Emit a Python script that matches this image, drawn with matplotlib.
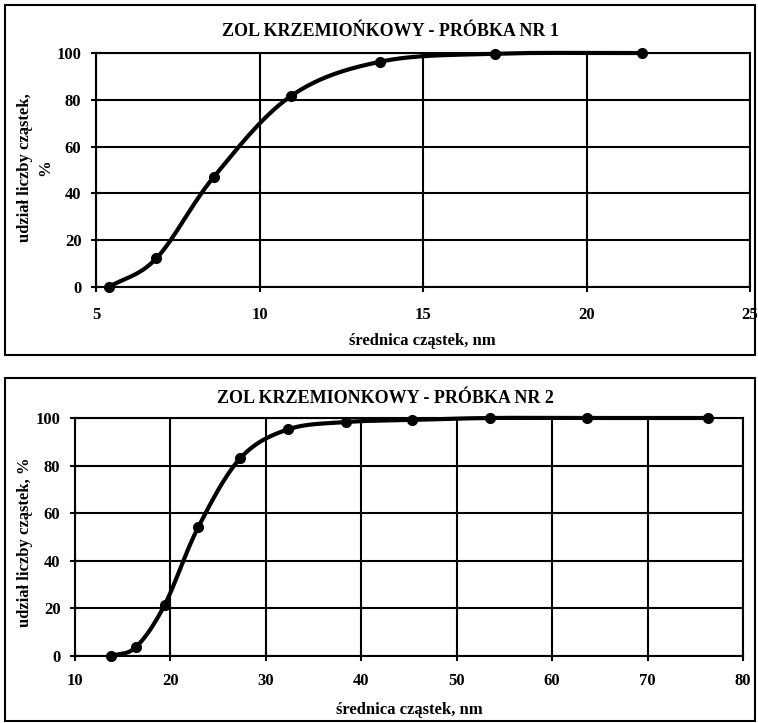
import numpy as np
import matplotlib
matplotlib.use("Agg")
import matplotlib.pyplot as plt
from matplotlib.patches import Rectangle

# Data
x1 = [5.4, 6.85, 8.6, 10.95, 13.7, 17.2, 21.7]
y1 = [0, 12.3, 47, 81.5, 96.3, 99.7, 100]
x2 = [13.8, 16.4, 19.4, 22.9, 27.3, 32.3, 38.4, 45.3, 53.5, 63.7, 76.3]
y2 = [0, 3.8, 21.5, 54, 83, 95.2, 98.3, 99.2, 100, 100, 100]

title1 = "ZOL KRZEMIOŃKOWY - PRÓBKA NR 1"
title2 = "ZOL KRZEMIONKOWY - PRÓBKA NR 2"
xlabel = "średnica cząstek, nm"
ylabel1 = "udział liczby cząstek,\n%"
ylabel2 = "udział liczby cząstek, %"

plt.rcParams['font.family'] = ['Liberation Serif', 'DejaVu Serif']
plt.rcParams['font.weight'] = 'bold'


def smooth(xs, ys, n=30):
    xs = np.asarray(xs, float); ys = np.asarray(ys, float)
    P = np.column_stack([xs, ys])
    P = np.vstack([2 * P[0] - P[1], P, 2 * P[-1] - P[-2]])
    out = []
    t = np.linspace(0, 1, n)[:, None]
    for i in range(1, len(P) - 2):
        p0, p1, p2, p3 = P[i - 1], P[i], P[i + 1], P[i + 2]
        seg = 0.5 * ((2 * p1) + (-p0 + p2) * t + (2 * p0 - 5 * p1 + 4 * p2 - p3) * t ** 2
                     + (-p0 + 3 * p1 - 3 * p2 + p3) * t ** 3)
        out.append(seg)
    S = np.vstack(out)
    return S[:, 0], np.minimum(S[:, 1], 100.3)


W, H = 758, 723
fig = plt.figure(figsize=(W / 100, H / 100), dpi=100)


def fx(px):
    return px / W


def fy(py):
    return 1 - py / H


# panel frames
fig.patches.append(Rectangle((fx(5), fy(355)), 750 / W, 350 / H,
                             transform=fig.transFigure, fill=False, lw=1.5, ec='black'))
fig.patches.append(Rectangle((fx(5), fy(721)), 750 / W, 343 / H,
                             transform=fig.transFigure, fill=False, lw=1.5, ec='black'))


def setup(ax, xs, ys, xlim, xticks, xpad):
    sx, sy = smooth(xs, ys)
    ax.plot(sx, sy, color='black', lw=3, solid_capstyle='round', zorder=3, clip_on=False)
    ax.plot(xs, ys, 'o', color='black', ms=7, zorder=4, clip_on=False)
    ax.set_xlim(*xlim)
    ax.set_ylim(0, 100)
    ax.set_xticks(xticks)
    ax.set_yticks([0, 20, 40, 60, 80, 100])
    ax.grid(True, color='black', lw=1.5)
    ax.set_axisbelow(True)
    for s in ax.spines.values():
        s.set_linewidth(1.5)
    ax.tick_params(axis='both', labelsize=12, width=1.5, length=7, direction='inout')
    ax.tick_params(axis='x', pad=xpad)
    ax.tick_params(axis='y', pad=7)
    for lab in ax.get_xticklabels() + ax.get_yticklabels():
        lab.set_fontweight('bold')
    return ax


ax1 = fig.add_axes([fx(96), fy(287), (750 - 96) / W, (287 - 53) / H])
setup(ax1, x1, y1, (5, 25), [5, 10, 15, 20, 25], 11)
fig.text(fx(390), fy(32), title1, ha='center', va='center', fontsize=13, fontweight='bold')
fig.text(fx(422), fy(341), xlabel, ha='center', va='center', fontsize=12, fontweight='bold')
fig.text(fx(35), fy(168), ylabel1, rotation=90, ha='center', va='center',
         fontsize=12, fontweight='bold', linespacing=1.3)

ax2 = fig.add_axes([fx(75), fy(656), (743 - 75) / W, (656 - 418) / H])
setup(ax2, x2, y2, (10, 80), [10, 20, 30, 40, 50, 60, 70, 80], 9)
fig.text(fx(385), fy(398), title2, ha='center', va='center', fontsize=13, fontweight='bold')
fig.text(fx(409), fy(710), xlabel, ha='center', va='center', fontsize=12, fontweight='bold')
fig.text(fx(25), fy(542), ylabel2, rotation=90, ha='center', va='center',
         fontsize=12, fontweight='bold')

fig.savefig('out.png', dpi=100)
